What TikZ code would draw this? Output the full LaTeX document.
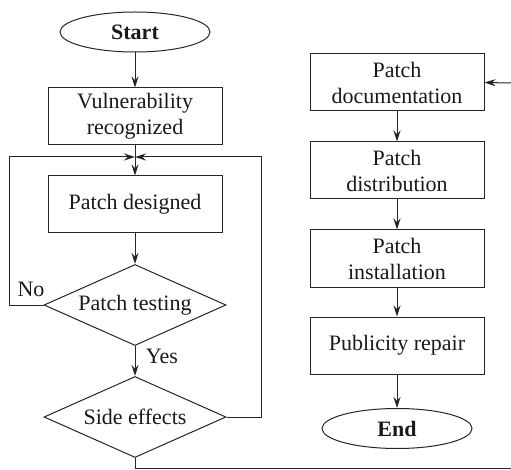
\documentclass[tikz,border=0pt]{standalone}
\usepackage{fontspec}
\setmainfont{Liberation Serif}
\usetikzlibrary{shapes.geometric,arrows.meta}

\begin{document}
\begin{tikzpicture}[x=1pt, y=-1pt,
            line width=1pt, draw=black!85, text=black!90,
            font=\fontsize{22}{26}\selectfont,
            box/.style={rectangle, draw, align=center, inner sep=0pt,
                    minimum width=174pt, minimum height=57pt},
            test/.style={diamond, draw, aspect=2.25, inner sep=0pt,
                    minimum width=182pt, minimum height=81pt},
            term/.style={ellipse, draw, inner sep=0pt, font=\fontsize{22}{26}\selectfont\bfseries,
                    minimum width=150pt, minimum height=40pt},
            flow/.style={-{Stealth[length=11pt,width=7pt]}}
        ]
        \useasboundingbox (0,0) rectangle (511,470);

        % Left column
        \node[term] (start) at (135,32) {Start};
        \node[box] (vuln) at (135,116.5) {Vulnerability\\recognized};
        \node[box] (design) at (135,204.5) {Patch designed};
        \node[test] (testing) at (135,305) {Patch testing};
        \node[test] (side) at (135,417) {Side effects};

        \node (no) at (31,289) {No};
        \node (yes) at (162,356) {Yes};

        % Corners of the two loops and of the long connector
        \coordinate (join) at (135,157);
        \coordinate (leftturn) at (9,157);
        \coordinate (rightturn) at (261,157);
        \coordinate (bottomright) at (511,468);
        \coordinate (docin) at (511,83);

        % Right column
        \foreach \t/\y [count=\n from 1] in {{Patch\\documentation}/82.5, {Patch\\distribution}/170.5,
                {Patch\\installation}/258.5, {Publicity repair}/345.5} {
                \node[box] (R\n) at (397,\y) {\t};
            }
        \node[term] (end) at (397,428.5) {End};

        % Straight arrows
        \draw[flow] (start) -- (vuln);
        \draw[flow] (vuln) -- (design);
        \draw[flow] (design) -- (testing);
        \draw[flow] (testing) -- (side);
        \foreach \n in {1,2,3} {
                \pgfmathtruncatemacro{\next}{\n+1}
                \draw[flow] (R\n) -- (R\next);
            }
        \draw[flow] (R4) -- (end);

        % Loops back to the design step
        \draw[flow] (testing.west) -| (leftturn) -- (join);
        \draw[flow] (side.east) -| (rightturn) -- (join);

        % On to the documentation
        \draw (side.south) |- (bottomright);
        \draw[flow] (docin) -- (R1.east);
    \end{tikzpicture}
\end{document}
